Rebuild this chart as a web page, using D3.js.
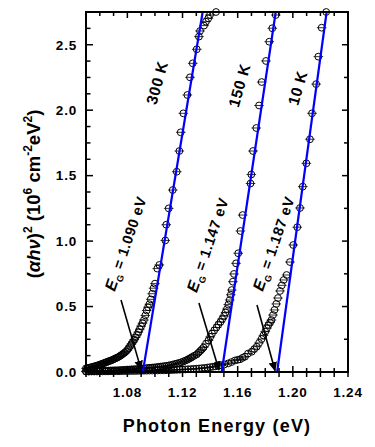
<!DOCTYPE html>
<html>
<head>
<meta charset="utf-8">
<script src="https://cdn.jsdelivr.net/npm/d3@7"></script>
<style>
  html, body { margin: 0; padding: 0; background: #fff; }
  svg { display: block; font-family: "Liberation Sans", Arial, sans-serif; font-weight: bold; }
</style>
</head>
<body>
<script>
// Absorption edge data, (alpha*h*nu)^2 in 10^6 cm^-2 eV^2 vs photon energy (eV)
const temps = ["300 K", "150 K", "10 K"];
const gaps = ["1.090", "1.147", "1.187"];

const data300 = [
  [1.050, 0.028], [1.051, 0.030], [1.052, 0.032], [1.053, 0.034], [1.054, 0.037],
  [1.055, 0.040], [1.056, 0.043], [1.057, 0.046], [1.058, 0.049], [1.059, 0.052],
  [1.060, 0.056], [1.061, 0.060], [1.062, 0.064], [1.063, 0.068], [1.064, 0.072],
  [1.065, 0.076], [1.066, 0.080], [1.067, 0.084], [1.068, 0.088], [1.069, 0.092],
  [1.070, 0.097], [1.071, 0.102], [1.072, 0.107], [1.073, 0.112], [1.074, 0.118],
  [1.075, 0.125], [1.076, 0.132], [1.077, 0.140], [1.078, 0.148], [1.079, 0.157],
  [1.080, 0.168], [1.081, 0.182], [1.082, 0.198], [1.083, 0.214], [1.084, 0.230],
  [1.085, 0.247], [1.086, 0.265], [1.087, 0.284], [1.088, 0.305], [1.089, 0.327],
  [1.090, 0.350], [1.091, 0.373], [1.092, 0.397], [1.093, 0.432], [1.094, 0.470],
  [1.095, 0.495], [1.096, 0.518], [1.097, 0.555], [1.098, 0.598], [1.099, 0.640],
  [1.100, 0.675], [1.1017, 0.790], [1.1032, 0.818], [1.1075, 1.005], [1.1082, 1.125],
  [1.1100, 1.250], [1.1129, 1.390], [1.1158, 1.530], [1.1177, 1.688], [1.1187, 1.831],
  [1.1206, 1.976], [1.1235, 2.116], [1.1254, 2.251], [1.1274, 2.358], [1.1303, 2.465],
  [1.1319, 2.562], [1.1327, 2.605], [1.1356, 2.646], [1.1370, 2.676], [1.1387, 2.702],
  [1.1399, 2.727], [1.1443, 2.750]
];

const data150 = [
  [1.0500, 0.006], [1.0515, 0.006], [1.0530, 0.007], [1.0545, 0.007], [1.0560, 0.008],
  [1.0575, 0.008], [1.0590, 0.009], [1.0605, 0.009], [1.0620, 0.010], [1.0635, 0.010],
  [1.0650, 0.011], [1.0665, 0.011], [1.0680, 0.012], [1.0695, 0.012], [1.0710, 0.013],
  [1.0725, 0.013], [1.0740, 0.014], [1.0755, 0.015], [1.0770, 0.016], [1.0785, 0.017],
  [1.0800, 0.018], [1.0815, 0.019], [1.0830, 0.020], [1.0845, 0.021], [1.0860, 0.022],
  [1.0875, 0.023], [1.0890, 0.025], [1.0905, 0.026], [1.0920, 0.028], [1.0935, 0.029],
  [1.0950, 0.031], [1.0965, 0.032], [1.0980, 0.034], [1.0995, 0.035], [1.1010, 0.037],
  [1.1025, 0.039], [1.1040, 0.041], [1.1055, 0.043], [1.1070, 0.045], [1.1085, 0.047],
  [1.1100, 0.050], [1.1115, 0.053], [1.1130, 0.057], [1.1145, 0.061], [1.1160, 0.065],
  [1.1175, 0.069], [1.1190, 0.074], [1.1205, 0.080], [1.1220, 0.087], [1.1235, 0.094],
  [1.1247, 0.101], [1.1260, 0.108], [1.1270, 0.115], [1.1285, 0.124], [1.1303, 0.134],
  [1.1315, 0.147], [1.1328, 0.160], [1.1340, 0.173], [1.1352, 0.187], [1.1370, 0.215],
  [1.1388, 0.241], [1.1401, 0.268], [1.1414, 0.294], [1.1430, 0.318], [1.1446, 0.340],
  [1.1460, 0.362], [1.1475, 0.382], [1.1488, 0.405], [1.1501, 0.428], [1.1512, 0.455],
  [1.1522, 0.481], [1.1532, 0.515], [1.1542, 0.550], [1.1550, 0.590], [1.1557, 0.626],
  [1.1565, 0.690], [1.1573, 0.749], [1.1588, 0.830], [1.1604, 0.907], [1.1620, 1.077],
  [1.1636, 1.199], [1.1693, 1.440], [1.1699, 1.509], [1.1711, 1.688], [1.1735, 1.864],
  [1.1755, 2.036], [1.1774, 2.215], [1.1805, 2.376], [1.1829, 2.523], [1.1851, 2.626],
  [1.1876, 2.727]
];

const data10 = [
  [1.050, 0.003], [1.052, 0.003], [1.054, 0.004], [1.056, 0.004], [1.058, 0.004],
  [1.060, 0.005], [1.062, 0.005], [1.064, 0.005], [1.066, 0.005], [1.068, 0.006],
  [1.070, 0.006], [1.072, 0.006], [1.074, 0.006], [1.076, 0.007], [1.078, 0.007],
  [1.080, 0.007], [1.082, 0.008], [1.084, 0.008], [1.086, 0.008], [1.088, 0.009],
  [1.090, 0.009], [1.092, 0.010], [1.094, 0.010], [1.096, 0.011], [1.098, 0.011],
  [1.100, 0.012], [1.102, 0.012], [1.104, 0.013], [1.106, 0.013], [1.108, 0.014],
  [1.110, 0.014], [1.112, 0.015], [1.114, 0.016], [1.116, 0.017], [1.118, 0.018],
  [1.120, 0.019], [1.122, 0.020], [1.124, 0.021], [1.126, 0.022], [1.128, 0.024],
  [1.130, 0.025], [1.132, 0.027], [1.134, 0.029], [1.136, 0.031], [1.138, 0.034],
  [1.140, 0.037], [1.142, 0.040], [1.144, 0.043], [1.146, 0.047], [1.148, 0.052],
  [1.1505, 0.058], [1.1532, 0.066], [1.1555, 0.076], [1.1580, 0.088], [1.1600, 0.093],
  [1.1617, 0.097], [1.1635, 0.108], [1.1653, 0.117], [1.1675, 0.141], [1.1702, 0.155],
  [1.1720, 0.175], [1.1738, 0.193], [1.1755, 0.222], [1.1773, 0.252], [1.1787, 0.280],
  [1.1800, 0.308], [1.1812, 0.335], [1.1823, 0.359], [1.1835, 0.378], [1.1845, 0.397],
  [1.1856, 0.435], [1.1867, 0.474], [1.1880, 0.520], [1.1892, 0.565], [1.1907, 0.619],
  [1.1920, 0.662], [1.1934, 0.703], [1.1955, 0.741], [1.1979, 0.840], [1.2003, 0.970],
  [1.2032, 1.106], [1.2052, 1.253], [1.2072, 1.416], [1.2098, 1.594], [1.2124, 1.778],
  [1.2139, 1.976], [1.2169, 2.199], [1.2185, 2.409], [1.2209, 2.630], [1.2242, 2.750]
];

// linear fits: [start, end] in data units
const fit300 = [[1.0912, 0], [1.1346, 2.75]];
const fit150 = [[1.1484, 0], [1.1876, 2.75]];
const fit10 = [[1.1886, 0], [1.2245, 2.75]];

const xTicks = [1.08, 1.12, 1.16, 1.20, 1.24];
const xTickLabels = ["1.08", "1.12", "1.16", "1.20", "1.24"];
const yTicks = [0, 0.5, 1.0, 1.5, 2.0, 2.5];
const yTickLabels = ["0.0", "0.5", "1.0", "1.5", "2.0", "2.5"];

// annotation anchors (data units)
const tempAnchors = [[1.1015, 2.21], [1.1612, 2.19], [1.2035, 2.17]];
const gapAnchors = [[1.0790, 0.98], [1.1385, 0.97], [1.1863, 0.98]];
const arrowFrom = [[1.0754, 0.55], [1.1319, 0.527], [1.1740, 0.512]];
const arrowTo = [[1.0899, 0.02], [1.1464, 0.015], [1.1871, 0.01]];

const W = 375, H = 447;
const svg = d3.select("body").append("svg")
  .attr("width", W).attr("height", H)
  .attr("viewBox", `0 0 ${W} ${H}`);

svg.append("rect").attr("width", W).attr("height", H).attr("fill", "#fff");

const x = d3.scaleLinear().domain([1.05, 1.24]).range([86, 348]);
const y = d3.scaleLinear().domain([0, 2.75]).range([372, 12]);

svg.append("defs").append("marker")
  .attr("id", "head")
  .attr("viewBox", "0 0 10 10")
  .attr("refX", 9).attr("refY", 5)
  .attr("markerWidth", 6).attr("markerHeight", 6)
  .attr("markerUnits", "strokeWidth")
  .attr("orient", "auto")
  .append("path").attr("d", "M0,0.5 L10,5 L0,9.5 Z").attr("fill", "#000");

// data markers
const series = [data300, data150, data10];
const pts = svg.append("g").attr("class", "points");
series.forEach(s => {
  const g = pts.append("g").selectAll("g").data(s).join("g")
    .attr("transform", d => `translate(${x(d[0])},${y(d[1])})`);
  g.append("circle").attr("r", 3.4)
    .attr("fill", "none").attr("stroke", "#000").attr("stroke-width", 1);
  g.append("line").attr("x1", -4.8).attr("x2", 4.8)
    .attr("stroke", "#000").attr("stroke-width", 0.8);
});

// fit lines
const fitLine = d3.line().x(d => x(d[0])).y(d => y(d[1]));
svg.append("g").selectAll("path").data([fit300, fit150, fit10]).join("path")
  .attr("d", fitLine)
  .attr("fill", "none").attr("stroke", "#0000ff").attr("stroke-width", 2.2);

// axes
const frame = svg.append("g").attr("class", "axes");
const minorX = x.ticks(20);
const minorY = d3.range(0, 2.75, 0.125);
const isMajor = (list, d) => list.some(t => Math.abs(t - d) < 1e-6);

const axBottom = frame.append("g").attr("transform", `translate(0,${y(0)})`);
axBottom.selectAll("line").data(minorX).join("line")
  .attr("x1", d => x(d)).attr("x2", d => x(d))
  .attr("y1", d => isMajor(xTicks, d) ? -6 : -4)
  .attr("y2", 5)
  .attr("stroke", "#000").attr("stroke-width", 1.5);
axBottom.selectAll("text").data(xTicks).join("text")
  .attr("x", d => x(d)).attr("y", 25)
  .attr("text-anchor", "middle")
  .attr("font-size", 13.5).attr("letter-spacing", 0.8)
  .text((d, i) => xTickLabels[i]);

const axTop = frame.append("g").attr("transform", `translate(0,${y(2.75)})`);
axTop.selectAll("line").data(minorX).join("line")
  .attr("x1", d => x(d)).attr("x2", d => x(d))
  .attr("y1", 0)
  .attr("y2", d => isMajor(xTicks, d) ? 6 : 4)
  .attr("stroke", "#000").attr("stroke-width", 1.5);

const axLeft = frame.append("g").attr("transform", `translate(${x(1.05)},0)`);
axLeft.selectAll("line").data(minorY).join("line")
  .attr("y1", d => y(d)).attr("y2", d => y(d))
  .attr("x1", 0)
  .attr("x2", d => isMajor(yTicks, d) ? 7 : 4.5)
  .attr("stroke", "#000").attr("stroke-width", 1.5);
axLeft.selectAll("text").data(yTicks).join("text")
  .attr("x", -9).attr("y", d => y(d))
  .attr("dy", "0.36em")
  .attr("text-anchor", "end")
  .attr("font-size", 13.5).attr("letter-spacing", 0.8)
  .text((d, i) => yTickLabels[i]);

const axRight = frame.append("g").attr("transform", `translate(${x(1.24)},0)`);
axRight.selectAll("line").data(d3.range(0, 2.75, 0.25)).join("line")
  .attr("y1", d => y(d)).attr("y2", d => y(d))
  .attr("x1", 0)
  .attr("x2", d => isMajor(yTicks, d) ? -6 : -4)
  .attr("stroke", "#000").attr("stroke-width", 1.5);

frame.append("rect")
  .attr("x", x(1.05)).attr("y", y(2.75))
  .attr("width", x(1.24) - x(1.05)).attr("height", y(0) - y(2.75))
  .attr("fill", "none").attr("stroke", "#000").attr("stroke-width", 2);

// arrows
svg.append("g").selectAll("line").data(arrowFrom).join("line")
  .attr("x1", d => x(d[0])).attr("y1", d => y(d[1]))
  .attr("x2", (d, i) => x(arrowTo[i][0])).attr("y2", (d, i) => y(arrowTo[i][1]))
  .attr("stroke", "#000").attr("stroke-width", 1.6)
  .attr("marker-end", "url(#head)");

// temperature labels
svg.append("g").selectAll("text").data(temps).join("text")
  .attr("transform", (d, i) => `translate(${x(tempAnchors[i][0])},${y(tempAnchors[i][1])}) rotate(-74)`)
  .attr("text-anchor", "middle").attr("dy", "0.35em")
  .attr("font-size", 15.5).attr("letter-spacing", 0.6)
  .text(d => d);

// band gap labels
const gl = svg.append("g").selectAll("text").data(gaps).join("text")
  .attr("transform", (d, i) => `translate(${x(gapAnchors[i][0])},${y(gapAnchors[i][1])}) rotate(-71)`)
  .attr("text-anchor", "middle").attr("dy", "0.35em")
  .attr("font-size", 14.5).attr("letter-spacing", 0.5);
gl.append("tspan").attr("font-style", "italic").attr("font-size", 16).text("E");
gl.append("tspan").attr("font-size", 9).attr("dy", 4).text("G");
gl.append("tspan").attr("dy", -4).text(d => ` = ${d} eV`);

// axis titles
svg.append("text")
  .attr("x", 217).attr("y", 432)
  .attr("text-anchor", "middle")
  .attr("font-size", 18).attr("letter-spacing", 1.2)
  .text("Photon Energy (eV)");

const yt = svg.append("text")
  .attr("transform", "translate(40,194) rotate(-90)")
  .attr("text-anchor", "middle")
  .attr("font-size", 18.5);
yt.append("tspan").text("(");
yt.append("tspan").attr("font-style", "italic").text("αhν");
yt.append("tspan").text(")");
yt.append("tspan").attr("font-size", 12).attr("dy", -8).text("2");
yt.append("tspan").attr("dy", 8).text(" (10");
yt.append("tspan").attr("font-size", 12).attr("dy", -8).text("6");
yt.append("tspan").attr("dy", 8).text(" cm");
yt.append("tspan").attr("font-size", 12).attr("dy", -8).text("-2");
yt.append("tspan").attr("dy", 8).text("eV");
yt.append("tspan").attr("font-size", 12).attr("dy", -8).text("2");
yt.append("tspan").attr("dy", 8).text(")");
</script>
</body>
</html>
